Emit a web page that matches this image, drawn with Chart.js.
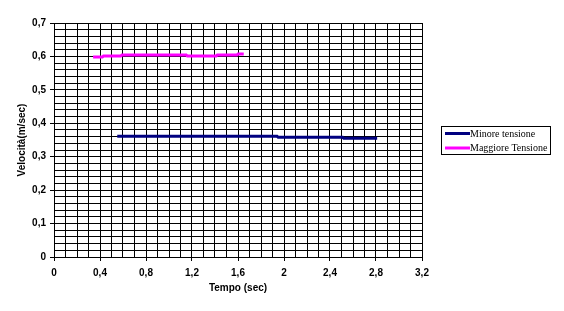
<!DOCTYPE html>
<html>
<head>
<meta charset="utf-8">
<script src="https://cdn.jsdelivr.net/npm/chart.js@4/dist/chart.umd.min.js"></script>
<style>
  html, body { margin: 0; padding: 0; background: #fff; }
  #wrap { width: 564px; height: 311px; position: relative; }
</style>
</head>
<body>
<div id="wrap"><canvas id="myChart"></canvas></div>
<script>
"use strict"

// series
const minoreX = [0.55, 1.94, 1.95, 2.51, 2.52, 2.81];
const minoreY = [0.361, 0.361, 0.358, 0.358, 0.355, 0.355];
const maggioreX = [0.34, 0.42, 0.43, 0.58, 0.59, 1.15, 1.16, 1.41, 1.42, 1.59, 1.60, 1.65];
const maggioreY = [0.598, 0.598, 0.601, 0.601, 0.604, 0.604, 0.601, 0.601, 0.604, 0.604, 0.607, 0.607];
const seriesNames = ["Minore tensione", "Maggiore Tensione"];
const seriesColors = ["#000080", "#ff00ff"];

const ctx = document.getElementById('myChart');
const tickFont = { family: "Liberation Sans", size: 10, weight: "bold" };

function toPoints(xs, ys) {
    return xs.map((x, i) => ({ x: x, y: ys[i] }))
}

function comma(v) {
    return String(Math.round(v * 10) / 10).replace('.', ',')
}

// box legend like the spreadsheet one
const boxLegend = {
    id: 'boxLegend',
    afterDraw(chart) {
        const c = chart.ctx;
        c.save();
        c.fillStyle = '#fff';
        c.fillRect(441, 126, 109, 28);
        c.strokeStyle = '#000';
        c.lineWidth = 1;
        c.strokeRect(441.5, 126.5, 109, 28);
        c.font = '10px "Liberation Serif"';
        c.textBaseline = 'middle';
        seriesNames.forEach((name, i) => {
            const y = 133.5 + i * 14.5;
            c.strokeStyle = seriesColors[i];
            c.lineWidth = 3;
            c.beginPath();
            c.moveTo(445, y);
            c.lineTo(470, y);
            c.stroke();
            c.fillStyle = '#000';
            c.fillText(name, 470, y + 0.5);
        });
        c.restore();
    }
}

new Chart(ctx, {
    type: 'scatter',
    data: {
        datasets: [
            {
                label: seriesNames[0],
                data: toPoints(minoreX, minoreY),
                showLine: true,
                borderColor: seriesColors[0],
                borderWidth: 3,
                pointRadius: 0,
                tension: 0,
            },
            {
                label: seriesNames[1],
                data: toPoints(maggioreX, maggioreY),
                showLine: true,
                borderColor: seriesColors[1],
                borderWidth: 3,
                pointRadius: 0,
                tension: 0,
            },
        ]
    },
    options: {
        responsive: true,
        maintainAspectRatio: false,
        animation: false,
        layout: { padding: { top: 23, right: 142, left: 0, bottom: 0 } },
        plugins: {
            legend: { display: false },
            tooltip: { enabled: false },
        },
        scales: {
            x: {
                type: 'linear',
                min: 0,
                max: 3.2,
                afterFit: (scale) => { scale.height = 54 },
                border: { color: '#000', width: 1 },
                grid: {
                    color: '#000',
                    lineWidth: 1,
                    tickLength: 4,
                    tickColor: (c) => Math.round(c.tick.value * 10) % 4 === 0 ? '#000' : 'rgba(0,0,0,0)',
                },
                ticks: {
                    stepSize: 0.1,
                    autoSkip: false,
                    maxRotation: 0,
                    color: '#000',
                    font: tickFont,
                    padding: 6,
                    callback: (v) => Math.round(v * 10) % 4 === 0 ? comma(v) : '',
                },
                title: {
                    display: true,
                    text: 'Tempo (sec)',
                    color: '#000',
                    font: tickFont,
                    padding: { top: 0, bottom: 17 },
                },
            },
            y: {
                min: 0,
                max: 0.7,
                afterFit: (scale) => { scale.width = 54 },
                border: { color: '#000', width: 1 },
                grid: {
                    color: '#000',
                    lineWidth: 1,
                    tickLength: 4,
                    tickColor: (c) => Math.round(c.tick.value * 50) % 5 === 0 ? '#000' : 'rgba(0,0,0,0)',
                },
                ticks: {
                    stepSize: 0.02,
                    autoSkip: false,
                    color: '#000',
                    font: tickFont,
                    padding: 4,
                    callback: (v) => Math.round(v * 50) % 5 === 0 ? comma(v) : '',
                },
                title: {
                    display: true,
                    text: 'Velocità(m/sec)',
                    color: '#000',
                    font: tickFont,
                    padding: { top: 16, bottom: 0 },
                },
            },
        },
    },
    plugins: [boxLegend]
})
</script>
</body>
</html>
